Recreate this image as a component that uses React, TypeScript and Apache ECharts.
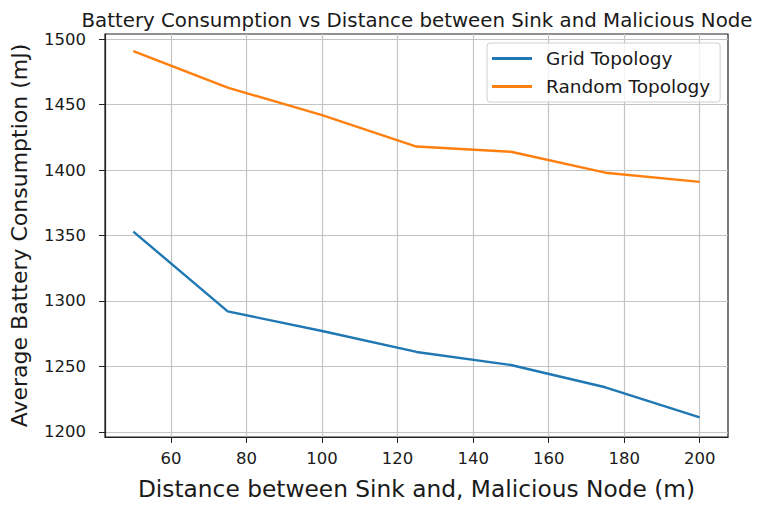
import React, { useEffect, useRef } from "react";
import * as echarts from "echarts";

const distances = [50, 75, 100, 125, 150, 175, 200];
const gridTopology = [1353, 1292, 1277, 1261, 1251, 1234, 1211];
const randomTopology = [1491, 1463, 1442, 1418, 1414, 1398, 1391];
const xTicks = [60, 80, 100, 120, 140, 160, 180, 200];
const yTicks = [1200, 1250, 1300, 1350, 1400, 1450, 1500];

const FONT = "DejaVu Sans";

export default function App() {
  const ref = useRef<HTMLDivElement>(null);
  useEffect(() => {
    if (!ref.current) return;
    const chart = echarts.init(ref.current, undefined, { renderer: "svg" });
    chart.setOption({
      animation: false,
      backgroundColor: "#fff",
      title: {
        text: "Battery Consumption vs Distance between Sink and Malicious Node",
        left: 412,
        textAlign: "center",
        top: 5,
        textStyle: { fontFamily: FONT, fontSize: 19.8, fontWeight: "normal", color: "#1a1a1a" },
      },
      grid: {
        left: 102,
        right: 36,
        top: 34,
        bottom: 65,
        show: true,
        borderColor: "#222",
        borderWidth: 1.2,
        backgroundColor: "#fff",
      },
      legend: {
        left: 487,
        top: 43,
        orient: "vertical",
        data: ["Grid Topology", "Random Topology"],
        icon: "rect",
        itemWidth: 40,
        itemHeight: 3,
        itemGap: 9,
        padding: [6, 10, 6, 5],
        borderColor: "#d0d0d0",
        borderWidth: 1,
        borderRadius: 3,
        backgroundColor: "rgba(255,255,255,0.8)",
        textStyle: { fontFamily: FONT, fontSize: 18.5, color: "#1a1a1a", padding: [0, 0, 0, 9] },
      },
      xAxis: {
        type: "value",
        min: 42.5,
        max: 207.5,
        axisLine: { show: true, onZero: false, lineStyle: { color: "#222", width: 1.2 } },
        axisTick: { show: true, customValues: xTicks, length: 6, lineStyle: { color: "#222" } },
        axisLabel: {
          customValues: xTicks,
          fontFamily: FONT,
          fontSize: 16.5,
          color: "#1a1a1a",
          margin: 13,
        },
        splitLine: { show: true, lineStyle: { color: "#c4c4c4", width: 1.2 } },
        name: "Distance between Sink and, Malicious Node (m)",
        nameLocation: "middle",
        nameGap: 40,
        nameTextStyle: { fontFamily: FONT, fontSize: 23.3, color: "#1a1a1a" },
      },
      yAxis: {
        type: "value",
        min: 1196,
        max: 1504,
        axisLine: { show: true, onZero: false, lineStyle: { color: "#222", width: 1.2 } },
        axisTick: { show: true, customValues: yTicks, length: 6, lineStyle: { color: "#222" } },
        axisLabel: {
          customValues: yTicks,
          formatter: (v: number) => String(v),
          fontFamily: FONT,
          fontSize: 16.5,
          color: "#1a1a1a",
          margin: 19,
        },
        splitLine: { show: true, lineStyle: { color: "#c4c4c4", width: 1.2 } },
        name: "Average Battery Consumption (mJ)",
        nameLocation: "middle",
        nameGap: 75,
        nameTextStyle: { fontFamily: FONT, fontSize: 22, color: "#1a1a1a" },
      },
      series: [
        {
          name: "Grid Topology",
          type: "line",
          data: distances.map((d, i) => [d, gridTopology[i]]),
          showSymbol: false,
          symbol: "none",
          itemStyle: { color: "#1f77b4" },
          lineStyle: { color: "#1f77b4", width: 2.4 },
        },
        {
          name: "Random Topology",
          type: "line",
          data: distances.map((d, i) => [d, randomTopology[i]]),
          showSymbol: false,
          symbol: "none",
          itemStyle: { color: "#ff7f0e" },
          lineStyle: { color: "#ff7f0e", width: 2.4 },
        },
      ],
    });
    return () => chart.dispose();
  }, []);
  return (
    <div
      ref={ref}
      style={{ position: "fixed", left: 0, top: 0, width: 764, height: 505 }}
    />
  );
}
